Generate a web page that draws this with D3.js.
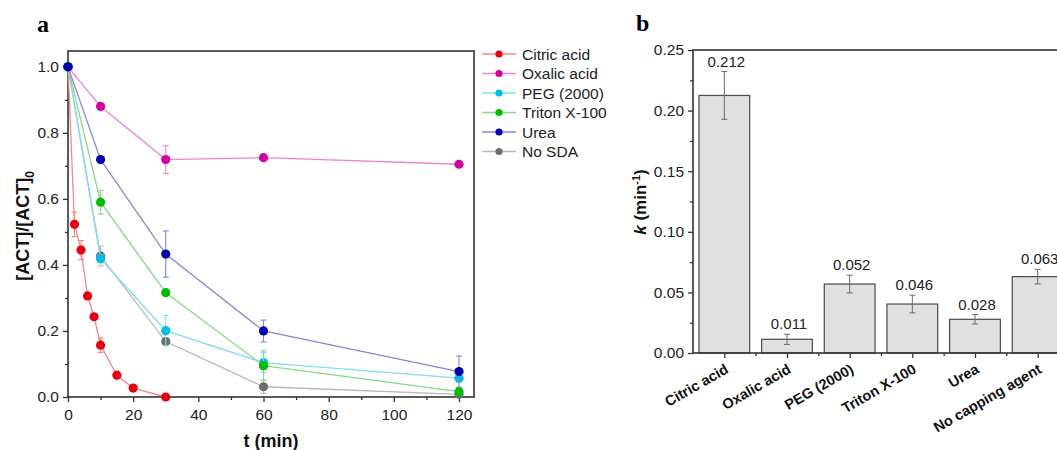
<!DOCTYPE html>
<html>
<head>
    <title>ACT degradation and rate constants</title>
    <script src="https://cdnjs.cloudflare.com/ajax/libs/d3/7.8.5/d3.min.js"></script>
    <style>
        body { margin: 0; background: #fff; }
        svg { font-family: "Liberation Sans", Arial, sans-serif; }
        .tick text { font-size: 15.5px; fill: #222; }
        .tick line { stroke: #333; stroke-width: 1.3; }
        .panel-label { font-family: "Liberation Serif", "Times New Roman", serif; font-weight: bold; font-size: 24px; }
    </style>
</head>
<body>
<svg id="chart" width="1057" height="450"></svg>
<script>
// ---- panel a : [ACT]/[ACT]0 vs time ----
var seriesNames = ["Citric acid", "Oxalic acid", "PEG (2000)", "Triton X-100", "Urea", "No SDA"];
var dotColors   = ["#e60012", "#d4009f", "#00bde6", "#00bb00", "#0000aa", "#6e6e6e"];
var lineColors  = ["#f08a8a", "#ea86d6", "#7fdcf2", "#86d986", "#8686d6", "#b8b8b8"];

var citricT   = [0, 2, 4, 6, 8, 10, 15, 20, 30];
var citricY   = [1.0, 0.523, 0.445, 0.306, 0.243, 0.157, 0.066, 0.027, 0.0];
var citricErr = [0, 0.037, 0.029, 0, 0, 0.022, 0, 0, 0];

var otherT    = [0, 10, 30, 60, 120];
var oxalicY   = [1.0, 0.880, 0.719, 0.725, 0.705];
var oxalicErr = [0, 0, 0.042, 0, 0];
var pegY      = [1.0, 0.419, 0.201, 0.104, 0.057];
var pegErr    = [0, 0.012, 0.046, 0.03, 0.012];
var tritonY   = [1.0, 0.590, 0.316, 0.095, 0.016];
var tritonErr = [0, 0.036, 0, 0.045, 0.01];
var ureaY     = [1.0, 0.719, 0.433, 0.200, 0.077];
var ureaErr   = [0, 0, 0.07, 0.033, 0.047];
var noSdaY    = [1.0, 0.427, 0.168, 0.031, 0.008];
var noSdaErr  = [0, 0.03, 0.01, 0.02, 0.005];

var xTicksA = [0, 20, 40, 60, 80, 100, 120];
var yTicksA = [0.0, 0.2, 0.4, 0.6, 0.8, 1.0];

// ---- panel b : rate constants ----
var agents   = ["Citric acid", "Oxalic acid", "PEG (2000)", "Triton X-100", "Urea", "No capping agent"];
var kValues  = [0.2125, 0.0113, 0.0569, 0.0404, 0.0278, 0.063];
var kErr     = [0.0197, 0.0042, 0.0073, 0.0073, 0.0039, 0.006];
var kLabels  = ["0.212", "0.011", "0.052", "0.046", "0.028", "0.063"];
var yTicksB  = [0, 0.05, 0.10, 0.15, 0.20, 0.25];

var svg = d3.select("#chart");

function build(t, y, e) {
    return t.map(function(d, i) { return {t: d, v: y[i], e: e[i]}; });
}
var series = [
    build(citricT, citricY, citricErr),
    build(otherT, oxalicY, oxalicErr),
    build(otherT, pegY, pegErr),
    build(otherT, tritonY, tritonErr),
    build(otherT, ureaY, ureaErr),
    build(otherT, noSdaY, noSdaErr)
];

var xa = d3.scaleLinear().domain([0, 124.6]).range([68, 474]);
var ya = d3.scaleLinear().domain([0, 1.048]).range([397, 51]);

var ga = svg.append("g");

// axes with outward ticks
ga.append("g").attr("transform", "translate(0,397)")
    .call(d3.axisBottom(xa).tickValues(xTicksA).tickSize(5).tickPadding(7).tickFormat(d3.format("d")))
    .call(function(g) { g.select(".domain").remove(); g.selectAll("text").attr("font-family", null); });
ga.append("g").attr("transform", "translate(0,397)")
    .call(d3.axisBottom(xa).tickValues(d3.range(10, 121, 20)).tickSize(3).tickFormat(""))
    .call(function(g) { g.select(".domain").remove(); });
ga.append("g").attr("transform", "translate(68,0)")
    .call(d3.axisLeft(ya).tickValues(yTicksA).tickSize(5).tickPadding(4).tickFormat(d3.format(".1f")))
    .call(function(g) { g.select(".domain").remove(); });
ga.append("g").attr("transform", "translate(68,0)")
    .call(d3.axisLeft(ya).tickValues([0.1, 0.3, 0.5, 0.7, 0.9]).tickSize(3).tickFormat(""))
    .call(function(g) { g.select(".domain").remove(); });
svg.selectAll(".tick text").attr("font-family", null);

ga.append("rect")
    .attr("x", xa(0)).attr("y", ya(1.048))
    .attr("width", xa(124.6) - xa(0)).attr("height", ya(0) - ya(1.048))
    .attr("fill", "none").attr("stroke", "#333").attr("stroke-width", 1.6);

var drawOrder = [0, 1, 5, 2, 3, 4];
var line = d3.line().x(function(d) { return xa(d.t); }).y(function(d) { return ya(d.v); });

drawOrder.forEach(function(si) {
    var g = ga.append("g");
    g.append("path").datum(series[si])
        .attr("d", line).attr("fill", "none")
        .attr("stroke", lineColors[si]).attr("stroke-width", 1.3);
    var eb = g.selectAll(".eb").data(series[si].filter(function(d) { return d.e > 0; }))
        .enter().append("g").attr("stroke", lineColors[si]).attr("stroke-width", 1.1);
    eb.append("line")
        .attr("x1", function(d) { return xa(d.t); }).attr("x2", function(d) { return xa(d.t); })
        .attr("y1", function(d) { return ya(d.v + d.e); })
        .attr("y2", function(d) { return ya(Math.max(0, d.v - d.e)); });
    eb.append("line")
        .attr("x1", function(d) { return xa(d.t) - 3; }).attr("x2", function(d) { return xa(d.t) + 3; })
        .attr("y1", function(d) { return ya(d.v + d.e); }).attr("y2", function(d) { return ya(d.v + d.e); });
    eb.append("line")
        .attr("x1", function(d) { return xa(d.t) - 3; }).attr("x2", function(d) { return xa(d.t) + 3; })
        .attr("y1", function(d) { return ya(Math.max(0, d.v - d.e)); })
        .attr("y2", function(d) { return ya(Math.max(0, d.v - d.e)); });
    g.selectAll("circle").data(series[si]).enter().append("circle")
        .attr("cx", function(d) { return xa(d.t); })
        .attr("cy", function(d) { return ya(d.v); })
        .attr("r", 4.6)
        .attr("fill", dotColors[si]);
});

// axis titles
ga.append("text").attr("x", 271).attr("y", 447).attr("text-anchor", "middle")
    .attr("font-weight", "bold").attr("font-size", 18).attr("fill", "#111").text("t (min)");
var yt = ga.append("text").attr("transform", "translate(29,226) rotate(-90)")
    .attr("text-anchor", "middle").attr("font-weight", "bold").attr("font-size", 18).attr("fill", "#111");
yt.append("tspan").text("[ACT]/[ACT]");
yt.append("tspan").attr("dy", 5).attr("font-size", 12).text("0");

svg.append("text").attr("class", "panel-label").attr("x", 37).attr("y", 32).text("a");

// legend
var leg = svg.append("g").selectAll("g").data(seriesNames).enter().append("g")
    .attr("transform", function(d, i) { return "translate(0," + (54 + i * 19.5) + ")"; });
leg.append("line").attr("x1", 482).attr("x2", 516)
    .attr("stroke", function(d, i) { return lineColors[i]; }).attr("stroke-width", 1.3);
leg.append("circle").attr("cx", 499).attr("r", 3.6)
    .attr("fill", function(d, i) { return dotColors[i]; });
leg.append("text").attr("x", 522).attr("y", 5.5).attr("font-size", 15.5).attr("fill", "#222")
    .text(function(d) { return d; });

// ---- panel b ----
var xb = d3.scaleLinear().domain([0.5, 6.5]).range([693, 1069]);
var yb = d3.scaleLinear().domain([0, 0.25]).range([353, 50]);
var band = xb(2) - xb(1), barW = band * 0.81;

var gb = svg.append("g");
gb.append("g").attr("transform", "translate(693,0)")
    .call(d3.axisLeft(yb).tickValues(yTicksB).tickSize(5).tickPadding(4).tickFormat(d3.format(".2f")))
    .call(function(g) { g.select(".domain").remove(); });
gb.append("g").attr("transform", "translate(693,0)")
    .call(d3.axisLeft(yb).tickValues([0.025, 0.075, 0.125, 0.175, 0.225]).tickSize(3).tickFormat(""))
    .call(function(g) { g.select(".domain").remove(); });
gb.append("g").attr("transform", "translate(0,353)")
    .call(d3.axisBottom(xb).tickValues(d3.range(1, 7)).tickSize(5).tickFormat(""))
    .call(function(g) { g.select(".domain").remove(); });
gb.append("g").attr("transform", "translate(0,353)")
    .call(d3.axisBottom(xb).tickValues(d3.range(1.5, 6, 1)).tickSize(3).tickFormat(""))
    .call(function(g) { g.select(".domain").remove(); });
gb.selectAll(".tick text").attr("font-family", null);

gb.selectAll(".bar").data(kValues).enter().append("rect")
    .attr("x", function(d, i) { return xb(i + 1) - barW / 2; })
    .attr("y", function(d) { return yb(d); })
    .attr("width", barW)
    .attr("height", function(d) { return yb(0) - yb(d); })
    .attr("fill", "#e0e0e0").attr("stroke", "#4a4a4a").attr("stroke-width", 1.2);

var ebs = gb.selectAll(".kerr").data(kValues).enter().append("g")
    .attr("stroke", "#6a6a6a").attr("stroke-width", 1);
ebs.append("line")
    .attr("x1", function(d, i) { return xb(i + 1); }).attr("x2", function(d, i) { return xb(i + 1); })
    .attr("y1", function(d, i) { return yb(d + kErr[i]); }).attr("y2", function(d, i) { return yb(d - kErr[i]); });
[1, -1].forEach(function(s) {
    ebs.append("line")
        .attr("x1", function(d, i) { return xb(i + 1) - 3; }).attr("x2", function(d, i) { return xb(i + 1) + 3; })
        .attr("y1", function(d, i) { return yb(d + s * kErr[i]); })
        .attr("y2", function(d, i) { return yb(d + s * kErr[i]); });
});

gb.selectAll(".klab").data(kLabels).enter().append("text")
    .attr("x", function(d, i) { return xb(i + 1) + 2; })
    .attr("y", function(d, i) { return yb(kValues[i] + kErr[i]) - 5; })
    .attr("text-anchor", "middle").attr("font-size", 15).attr("fill", "#222")
    .text(function(d) { return d; });

gb.append("rect").attr("x", 693).attr("y", 50).attr("width", 1069 - 693).attr("height", 303)
    .attr("fill", "none").attr("stroke", "#333").attr("stroke-width", 1.6);

gb.selectAll(".cat").data(agents).enter().append("text")
    .attr("transform", function(d, i) { return "translate(" + (xb(i + 1) + 5) + ",372) rotate(-30)"; })
    .attr("text-anchor", "end").attr("font-weight", "bold").attr("font-size", 14.5).attr("fill", "#111")
    .text(function(d) { return d; });

var kt = gb.append("text").attr("transform", "translate(646,202) rotate(-90)")
    .attr("text-anchor", "middle").attr("font-weight", "bold").attr("font-size", 17).attr("fill", "#111");
kt.append("tspan").attr("font-style", "italic").text("k");
kt.append("tspan").text(" (min");
kt.append("tspan").attr("dy", -6).attr("font-size", 11).text("-1");
kt.append("tspan").attr("dy", 6).text(")");

svg.append("text").attr("class", "panel-label").attr("x", 636).attr("y", 31).text("b");
</script>
</body>
</html>
